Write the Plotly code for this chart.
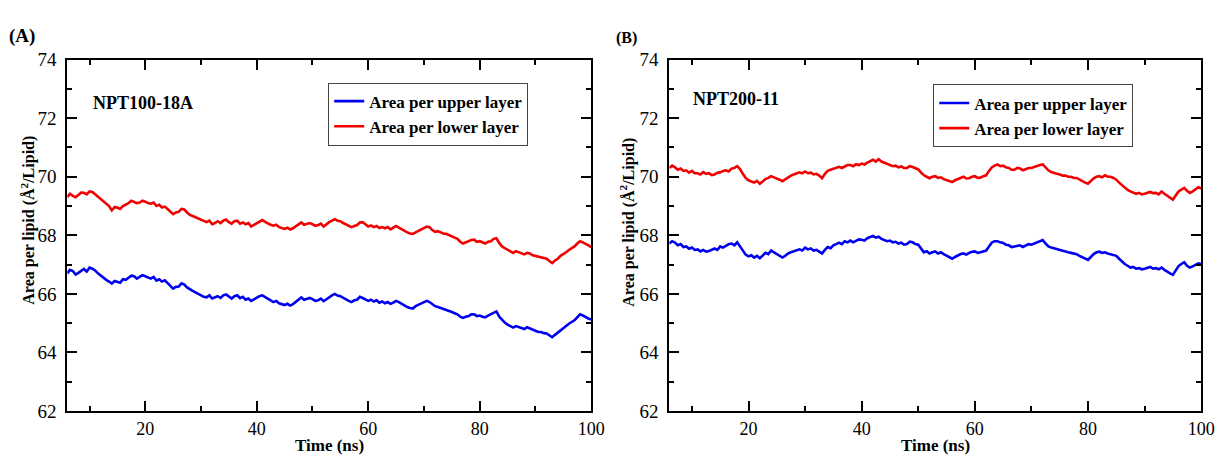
import plotly.graph_objects as go

# Area per lipid (Å^2/Lipid) sampled every 0.5 ns starting at 6 ns
T_START = 6.0
T_STEP = 0.5

upper_A = [66.7, 66.82, 66.78, 66.66, 66.72, 66.8, 66.85, 66.76, 66.9, 66.86,
           66.8, 66.7, 66.62, 66.55, 66.48, 66.42, 66.35, 66.44, 66.42, 66.38,
           66.5, 66.48, 66.55, 66.62, 66.6, 66.52, 66.58, 66.64, 66.6, 66.55,
           66.52, 66.58, 66.45, 66.5, 66.42, 66.46, 66.36, 66.28, 66.18, 66.24,
           66.25, 66.36, 66.32, 66.22, 66.15, 66.1, 66.05, 66.0, 65.95, 65.9,
           65.88, 65.95, 65.84, 65.88, 65.92, 65.86, 65.95, 65.98, 65.9, 65.84,
           65.92, 65.95, 65.85, 65.9, 65.8, 65.84, 65.76, 65.82, 65.88, 65.92,
           65.95, 65.9, 65.85, 65.78, 65.72, 65.76, 65.68, 65.64, 65.62, 65.66,
           65.6, 65.65, 65.72, 65.8, 65.88, 65.8, 65.82, 65.86, 65.82, 65.76,
           65.78, 65.84, 65.75, 65.82, 65.9, 65.95, 66.0, 65.94, 65.92, 65.86,
           65.8, 65.76, 65.72, 65.78, 65.8, 65.9, 65.86, 65.8, 65.76, 65.8,
           65.74, 65.78, 65.7, 65.74, 65.68, 65.72, 65.66, 65.7, 65.76, 65.72,
           65.66, 65.6, 65.55, 65.52, 65.5, 65.58, 65.62, 65.68, 65.7, 65.76,
           65.72, 65.64, 65.58, 65.55, 65.52, 65.48, 65.46, 65.42, 65.38, 65.34,
           65.3, 65.22, 65.18, 65.22, 65.24, 65.3, 65.3, 65.24, 65.26, 65.22,
           65.2, 65.26, 65.3, 65.36, 65.4, 65.22, 65.1, 65.02, 64.95, 64.9,
           64.85, 64.9, 64.86, 64.82, 64.8, 64.86, 64.82, 64.76, 64.74, 64.7,
           64.7, 64.66, 64.65, 64.58, 64.52, 64.6, 64.68, 64.76, 64.82, 64.9,
           64.98, 65.04, 65.1, 65.2, 65.3, 65.26, 65.2, 65.16, 65.12]

lower_A = [69.3, 69.42, 69.35, 69.3, 69.38, 69.46, 69.45, 69.4, 69.5, 69.48,
           69.4, 69.32, 69.25, 69.16, 69.1, 69.0, 68.85, 68.96, 68.95, 68.9,
           69.0, 69.04, 69.1, 69.18, 69.15, 69.1, 69.12, 69.18, 69.15, 69.1,
           69.08, 69.12, 69.0, 69.04, 68.95, 68.98, 68.9, 68.82, 68.72, 68.78,
           68.8, 68.9, 68.88, 68.78, 68.7, 68.66, 68.62, 68.58, 68.55, 68.5,
           68.45, 68.5, 68.38, 68.42, 68.48, 68.42, 68.5, 68.54, 68.45, 68.4,
           68.48, 68.5, 68.4, 68.44, 68.38, 68.42, 68.3, 68.36, 68.42, 68.48,
           68.52, 68.46, 68.4, 68.36, 68.33, 68.36, 68.28, 68.24, 68.22, 68.26,
           68.2, 68.24, 68.3, 68.38, 68.44, 68.36, 68.38, 68.42, 68.38, 68.32,
           68.35, 68.4, 68.3, 68.38, 68.45, 68.5, 68.55, 68.5, 68.48, 68.42,
           68.37, 68.32, 68.28, 68.32, 68.35, 68.44, 68.45, 68.38, 68.3, 68.34,
           68.28, 68.32, 68.25, 68.28, 68.24, 68.28, 68.2, 68.26, 68.32, 68.26,
           68.2, 68.14, 68.1, 68.06, 68.05, 68.1, 68.15, 68.22, 68.25, 68.3,
           68.28, 68.18, 68.12, 68.14, 68.1, 68.06, 68.05, 68.0, 67.95, 67.92,
           67.88, 67.78, 67.72, 67.76, 67.78, 67.84, 67.85, 67.78, 67.8, 67.76,
           67.72, 67.78, 67.8, 67.88, 67.9, 67.74, 67.62, 67.56, 67.5, 67.44,
           67.4, 67.46, 67.42, 67.38, 67.35, 67.4, 67.38, 67.32, 67.3, 67.26,
           67.25, 67.22, 67.2, 67.12, 67.05, 67.14, 67.2, 67.3, 67.35, 67.42,
           67.5, 67.56, 67.62, 67.72, 67.8, 67.76, 67.72, 67.66, 67.6]

upper_B = [67.72, 67.8, 67.75, 67.66, 67.7, 67.6, 67.62, 67.54, 67.58, 67.5,
           67.52, 67.45, 67.5, 67.44, 67.46, 67.52, 67.55, 67.5, 67.62, 67.58,
           67.65, 67.7, 67.72, 67.66, 67.76, 67.62, 67.45, 67.34, 67.28, 67.32,
           67.24, 67.3, 67.22, 67.3, 67.4, 67.36, 67.48, 67.42, 67.35, 67.3,
           67.24, 67.3, 67.38, 67.42, 67.45, 67.5, 67.52, 67.48, 67.58, 67.52,
           67.55, 67.48, 67.5, 67.44, 67.38, 67.5, 67.6, 67.56, 67.66, 67.7,
           67.75, 67.7, 67.8, 67.76, 67.82, 67.76, 67.8, 67.86, 67.85, 67.82,
           67.9, 67.94, 67.98, 67.92, 67.95, 67.88, 67.85, 67.8, 67.82, 67.76,
           67.78, 67.72, 67.75, 67.68, 67.7, 67.78, 67.76, 67.7, 67.68, 67.55,
           67.42, 67.46, 67.38, 67.42, 67.45, 67.38, 67.42, 67.36, 67.3, 67.26,
           67.2, 67.26, 67.32, 67.36, 67.38, 67.34, 67.4, 67.44, 67.45, 67.4,
           67.42, 67.46, 67.48, 67.62, 67.75, 67.8, 67.8, 67.76, 67.74, 67.68,
           67.66, 67.6, 67.62, 67.66, 67.66, 67.6, 67.64, 67.7, 67.68, 67.72,
           67.76, 67.8, 67.84, 67.72, 67.62, 67.58, 67.55, 67.52, 67.5, 67.46,
           67.45, 67.42, 67.4, 67.38, 67.35, 67.3, 67.25, 67.2, 67.16, 67.26,
           67.36, 67.42, 67.44, 67.4, 67.42, 67.38, 67.36, 67.32, 67.3, 67.2,
           67.1, 67.02, 66.96, 66.9, 66.92, 66.86, 66.88, 66.84, 66.86, 66.9,
           66.92, 66.86, 66.88, 66.84, 66.9, 66.82, 66.75, 66.7, 66.65, 66.8,
           66.95, 67.02, 67.08, 66.96, 66.9, 66.94, 66.98, 67.04, 67.02]

lower_B = [70.3, 70.38, 70.32, 70.24, 70.28, 70.2, 70.22, 70.14, 70.2, 70.12,
           70.12, 70.08, 70.16, 70.1, 70.12, 70.06, 70.08, 70.14, 70.15, 70.2,
           70.22, 70.18, 70.28, 70.3, 70.36, 70.26, 70.1, 69.96, 69.88, 69.84,
           69.8, 69.86, 69.76, 69.84, 69.92, 69.96, 70.02, 69.98, 69.95, 69.9,
           69.85, 69.92, 69.98, 70.04, 70.08, 70.12, 70.15, 70.12, 70.18, 70.12,
           70.14, 70.08, 70.1, 70.04, 69.95, 70.1, 70.2, 70.24, 70.28, 70.3,
           70.34, 70.3, 70.35, 70.4, 70.4, 70.36, 70.43, 70.4, 70.45, 70.42,
           70.48, 70.52, 70.58, 70.52, 70.6, 70.52, 70.48, 70.44, 70.42, 70.36,
           70.38, 70.32, 70.35, 70.3, 70.3, 70.36, 70.33, 70.28, 70.25, 70.14,
           70.05, 70.0, 69.95, 70.0, 70.02, 69.96, 69.98, 69.92, 69.88, 69.84,
           69.82, 69.88, 69.92, 69.98, 70.0, 69.94, 69.95, 70.0, 70.02, 69.96,
           69.97, 70.02, 70.05, 70.2, 70.32, 70.38, 70.42, 70.36, 70.38, 70.32,
           70.3, 70.24, 70.24, 70.3, 70.28, 70.22, 70.25, 70.3, 70.3, 70.34,
           70.36, 70.4, 70.42, 70.3, 70.22, 70.16, 70.12, 70.1, 70.08, 70.04,
           70.04, 70.0, 70.0, 69.96, 69.96, 69.9, 69.85, 69.8, 69.76, 69.86,
           69.95, 70.0, 70.02, 69.98, 70.05, 70.0, 70.0, 69.96, 69.9, 69.8,
           69.72, 69.62, 69.55, 69.5, 69.46, 69.42, 69.45, 69.4, 69.42, 69.46,
           69.48, 69.44, 69.45, 69.4, 69.5, 69.42, 69.35, 69.28, 69.22, 69.36,
           69.5, 69.56, 69.62, 69.52, 69.45, 69.5, 69.58, 69.64, 69.6]

x_ticks = [20, 40, 60, 80, 100]
y_ticks = [62, 64, 66, 68, 70, 72, 74]
series_names = ["Area per upper layer", "Area per lower layer"]
panel_labels = ["(A)", "(B)"]
run_names = ["NPT100-18A", "NPT200-11"]


def times(values):
    return [T_START + T_STEP * i for i in range(len(values))]


W, H = 1230, 464
FONT = "Liberation Serif"
BLUE = "#0000f0"
RED = "#f00000"
LW = 2.6

fig = go.Figure()
for vals, name, color, xa, ya, lg in [
    (upper_A, series_names[0], BLUE, "x", "y", "legend"),
    (lower_A, series_names[1], RED, "x", "y", "legend"),
    (upper_B, series_names[0], BLUE, "x2", "y2", "legend2"),
    (lower_B, series_names[1], RED, "x2", "y2", "legend2"),
]:
    fig.add_trace(go.Scatter(x=times(vals), y=vals, mode="lines", name=name,
                             line=dict(color=color, width=LW), xaxis=xa, yaxis=ya,
                             legend=lg))


def xax(domain, anchor):
    return dict(domain=domain, anchor=anchor, range=[6.0, 100], tickmode="array",
                tickvals=x_ticks, ticks="inside", ticklen=10, tickwidth=2, tickcolor="black",
                showline=True, linewidth=2, linecolor="black", mirror="ticks",
                showgrid=False, zeroline=False, ticklabelstandoff=0,
                minor=dict(dtick=10, tick0=0, ticks="inside", ticklen=5, tickwidth=2,
                           tickcolor="black", showgrid=False),
                tickfont=dict(family=FONT, size=18, color="black"))


def yax(domain, anchor):
    return dict(domain=domain, anchor=anchor, range=[62, 74], tickmode="array",
                tickvals=y_ticks, ticks="inside", ticklen=10, tickwidth=2, tickcolor="black",
                showline=True, linewidth=2, linecolor="black", mirror="ticks",
                showgrid=False, zeroline=False, ticklabelstandoff=5,
                minor=dict(dtick=1, tick0=0, ticks="inside", ticklen=5, tickwidth=2,
                           tickcolor="black", showgrid=False),
                tickfont=dict(family=FONT, size=19, color="black"))


ydom = [1 - 420 / H, 1 - 52 / H]
xdomA = [68 / W, 598 / W]
xdomB = [677 / W, 1215 / W]

legend_common = dict(font=dict(family=FONT, size=17, color="black", weight="bold"),
                     bgcolor="white", bordercolor="#444", borderwidth=1,
                     xanchor="left", yanchor="top", tracegroupgap=0, itemwidth=30)


def ann(text, x, y, size, anchor="left", angle=0):
    return dict(text=text, x=x / W, y=1 - y / H, xref="paper", yref="paper",
                xanchor=anchor, yanchor="middle", showarrow=False, textangle=angle,
                font=dict(family=FONT, size=size, color="black"))


annotations = [
    ann("<b>" + panel_labels[0] + "</b>", 7, 27, 19),
    ann("<b>" + panel_labels[1] + "</b>", 621, 29, 16),
    ann("<b>" + run_names[0] + "</b>", 92, 97, 18),
    ann("<b>" + run_names[1] + "</b>", 699, 93, 18),
    ann("<b>Time (ns)</b>", (68 + 598) / 2, 456, 17, "center"),
    ann("<b>Time (ns)</b>", (677 + 1215) / 2, 456, 17, "center"),
    ann("<b>Area per lipid (Å<sup>2</sup>/Lipid)</b>", 28, 220, 16, "center", -90),
    ann("<b>Area per lipid (Å<sup>2</sup>/Lipid)</b>", 635, 222, 16, "center", -90),
]

fig.update_layout(
    width=W, height=H, margin=dict(l=0, r=0, t=0, b=0),
    paper_bgcolor="white", plot_bgcolor="white",
    xaxis=xax(xdomA, "y"), yaxis=yax(ydom, "x"),
    xaxis2=xax(xdomB, "y2"), yaxis2=yax(ydom, "x2"),
    legend=dict(x=332 / W, y=1 - 76 / H, **legend_common),
    legend2=dict(x=944 / W, y=1 - 78 / H, **legend_common),
    annotations=annotations,
    showlegend=True,
)

fig.write_html("out.html")
